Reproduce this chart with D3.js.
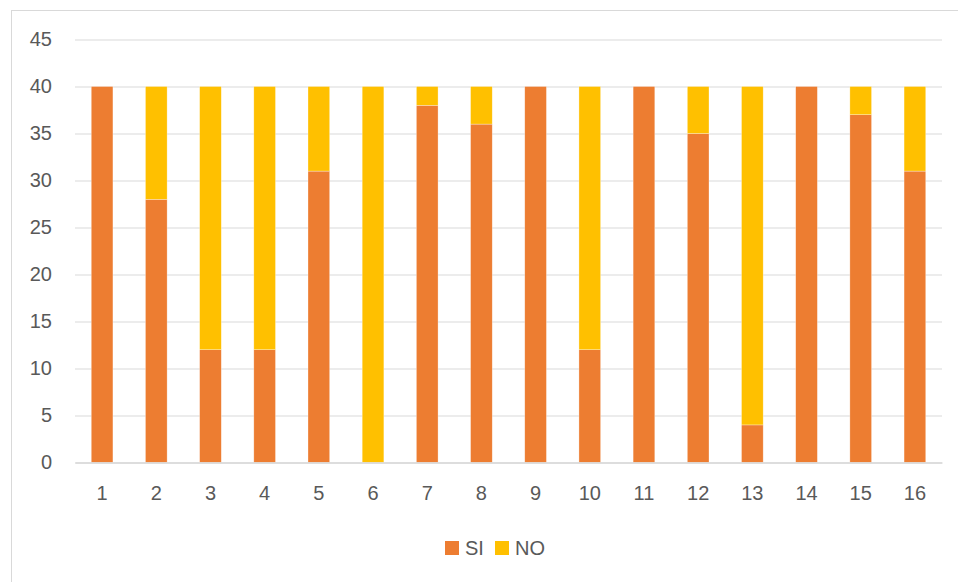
<!DOCTYPE html>
<html>
	<head>
		<meta charset="UTF-8">
		<title>SI / NO</title>
		<script src="https://cdn.jsdelivr.net/npm/d3@7"></script>
		<style>
			body { margin: 0; background: #fff; }
			text { font-family: "Liberation Sans", Arial, sans-serif; fill: #595959; }
		</style>
	</head>
	<body>
		<script>
			//data
			var categories = ["1","2","3","4","5","6","7","8","9","10","11","12","13","14","15","16"];
			var siValues = [40, 28, 12, 12, 31, 0, 38, 36, 40, 12, 40, 35, 4, 40, 37, 31];
			var noValues = [0, 12, 28, 28, 9, 40, 2, 4, 0, 28, 0, 5, 36, 0, 3, 9];
			var yTicks = [0, 5, 10, 15, 20, 25, 30, 35, 40, 45];
			var seriesNames = ["SI", "NO"];
			var seriesColors = ["#ED7D31", "#FFC000"];

			var w = 958;
			var h = 582;

			//rows for the stack
			var rows = categories.map(function(c, i) {
				return { cat: c, SI: siValues[i], NO: noValues[i] };
			});

			var svg = d3.select("body")
				.append("svg")
				.attr("width", w)
				.attr("height", h);

			//chart frame, runs off the right and bottom edge
			svg.append("rect")
				.attr("x", 11.5)
				.attr("y", 10.5)
				.attr("width", w)
				.attr("height", h)
				.attr("fill", "none")
				.attr("stroke", "#d9d9d9")
				.attr("stroke-width", 1);

			var xScale = d3.scaleBand()
				.domain(categories)
				.range([75, 942])
				.paddingInner(0.6)
				.paddingOuter(0.3);

			var yScale = d3.scaleLinear()
				.domain([0, 45])
				.range([462.5, 39.5]);

			//gridlines
			var yAxis = d3.axisLeft(yScale)
				.tickValues(yTicks)
				.tickSize(-(942 - 75))
				.tickPadding(23);

			var gy = svg.append("g")
				.attr("transform", "translate(75,0)")
				.call(yAxis);
			gy.select(".domain").remove();
			gy.selectAll(".tick line")
				.attr("stroke", "#d9d9d9")
				.attr("stroke-width", 1);
			gy.selectAll(".tick text")
				.attr("font-size", "20px")
				.attr("fill", "#595959");

			//stacked bars
			var stack = d3.stack().keys(seriesNames);
			var layers = stack(rows);

			svg.selectAll("g.layer")
				.data(layers)
				.enter()
				.append("g")
				.attr("class", "layer")
				.attr("fill", function(d, i) { return seriesColors[i]; })
				.selectAll("rect")
				.data(function(d) { return d; })
				.enter()
				.append("rect")
				.attr("x", function(d) { return xScale(d.data.cat); })
				.attr("width", xScale.bandwidth())
				.attr("y", function(d) { return yScale(d[1]); })
				.attr("height", function(d) { return yScale(d[0]) - yScale(d[1]); })
				.attr("stroke", "#fff")
				.attr("stroke-width", 0.6)
				.attr("stroke-opacity", function(d) { return d[1] > d[0] ? 0.5 : 0; });

			//x axis
			var xAxis = d3.axisBottom(xScale)
				.tickSize(0)
				.tickPadding(23);

			var gx = svg.append("g")
				.attr("transform", "translate(0," + yScale(0) + ")")
				.call(xAxis);
			gx.select(".domain")
				.attr("stroke", "#d9d9d9")
				.attr("stroke-width", 1.5);
			gx.selectAll(".tick text")
				.attr("font-size", "20px")
				.attr("fill", "#595959");

			//legend
			var legendX = [445, 495];
			var legend = svg.selectAll("g.legend")
				.data(seriesNames)
				.enter()
				.append("g")
				.attr("class", "legend")
				.attr("transform", function(d, i) { return "translate(" + legendX[i] + ",541)"; });

			legend.append("rect")
				.attr("width", 14)
				.attr("height", 14)
				.attr("fill", function(d, i) { return seriesColors[i]; });

			legend.append("text")
				.attr("x", 20)
				.attr("y", 14)
				.attr("font-size", "20px")
				.text(function(d) { return d; });
		</script>
	</body>
</html>
